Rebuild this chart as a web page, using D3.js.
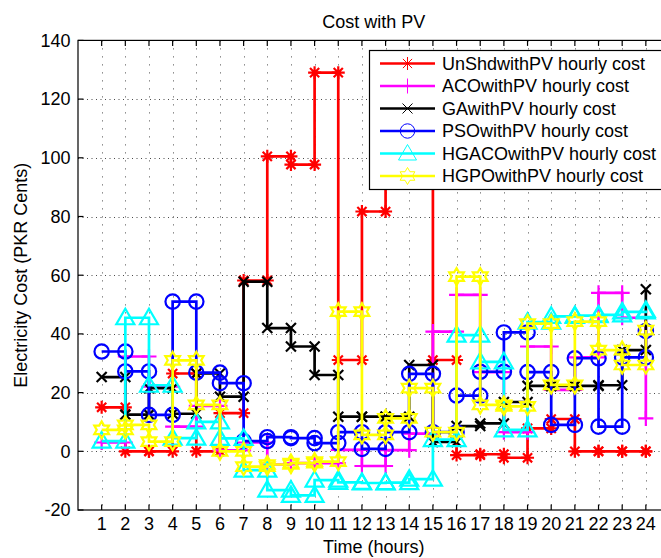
<!DOCTYPE html>
<html>
<head>
<meta charset="utf-8">
<script src="https://cdn.jsdelivr.net/npm/d3@7"></script>
<style>
  body { margin: 0; background: #fff; }
  svg { display: block; font-family: "Liberation Sans", Arial, Helvetica, sans-serif; }
</style>
</head>
<body>
<svg id="chart" width="661" height="558"></svg>
<script>
// Hourly electricity cost with PV, six scheduling schemes
const hours = [1, 2, 3, 4, 5, 6, 7, 8, 9, 10, 11, 12, 13, 14, 15, 16, 17, 18, 19, 20, 21, 22, 23, 24];
const yTicks = [-20, 0, 20, 40, 60, 80, 100, 120, 140];

const seriesNames = [
  "UnShdwithPV hourly cost",
  "ACOwithPV hourly cost",
  "GAwithPV hourly cost",
  "PSOwithPV hourly cost",
  "HGACOwithPV hourly cost",
  "HGPOwithPV hourly cost"
];
const seriesColors = ["#ff0000", "#ff00ff", "#000000", "#0000ff", "#00ffff", "#ffff00"];
const seriesMarkers = ["asterisk", "plus", "cross", "circle", "triangle", "hexagram"];

const unshdCost = [15, 0, 0, 26.5, 0, 13, 58.2, 100.5, 97.7, 129, 31.1, 81.7, 112, 106, 31.1, -1.3, -1.0, -2.2, 7.8, 11, 0, 0, 0, 0];
const acoCost   = [3, 32.3, 22, 8.4, 15.5, 0.3, 3.0, -4.5, -4, -4, 0.5, -5, 0.4, 6, 40.8, 53.3, 27, 6.5, 35.7, 20.9, 32, 54, 45.5, 11.2];
const gaCost    = [25.3, 12.5, 21.5, 12.8, 26.5, 18.6, 57.8, 42, 35.7, 26, 11.8, 11.8, 11.8, 29.4, 3.2, 8.6, 9.5, 16.8, 22.3, 22.3, 22.3, 22.5, 34.5, 55.2];
const psoCost   = [34, 27.2, 12.4, 51, 26.8, 23.2, 3.5, 4.8, 4.5, 2.8, 6.5, 0.8, 6.5, 26.4, 6.5, 19, 27.1, 40.5, 27, 9, 31.7, 8.4, 32, 41];
const hgacoCost = [3.5, 45.5, 22.5, 4.5, 10, 4.4, -6.4, -13.2, -15, -9.8, -10.6, -10.8, -10.7, -9.5, 4, 39.6, 30.5, 7.3, 44, 46, 46.2, 46.5, 47.5, 48];
const hgpoCost  = [7.3, 9, 3.3, 31, 15.8, 0, -5.2, -4.5, -4, -3.5, 47.6, 5.6, 11.2, 21.5, 6.5, 59.5, 15.8, 15.3, 43.5, 22.6, 44.2, 34.5, 29.4, 41.3];

const seriesValues = [unshdCost, acoCost, gaCost, psoCost, hgacoCost, hgpoCost];

(function draw() {
  const svg = d3.select("#chart");
  const pL = 78, pR = 669.5, pT = 40.4, pB = 510;
  const x = d3.scaleLinear().domain([0, 25]).range([pL, pR]);
  const y = d3.scaleLinear().domain([-20, 140]).range([pB, pT]);
  const fs = 18;

  svg.append("rect").attr("width", 661).attr("height", 558).attr("fill", "#fff");

  svg.append("defs").append("clipPath").attr("id", "plotClip")
    .append("rect").attr("x", pL).attr("y", pT)
    .attr("width", pR - pL).attr("height", pB - pT);

  // dotted grid
  const grid = svg.append("g").attr("stroke", "#000").attr("stroke-width", 1).attr("opacity", 0.7);
  grid.selectAll(".vg").data(hours).join("line")
    .attr("x1", d => Math.round(x(d)) + 0.5).attr("x2", d => Math.round(x(d)) + 0.5)
    .attr("y1", pT).attr("y2", pB)
    .attr("stroke-dasharray", "1,7");
  grid.selectAll(".hg").data(yTicks.slice(1, -1)).join("line")
    .attr("y1", d => Math.round(y(d)) + 0.5).attr("y2", d => Math.round(y(d)) + 0.5)
    .attr("x1", pL).attr("x2", pR)
    .attr("stroke-dasharray", "1,3.5");

  // axes box and inward ticks
  const axes = svg.append("g").attr("stroke", "#000").attr("stroke-width", 1.2);
  axes.append("rect").attr("x", pL).attr("y", pT)
    .attr("width", pR - pL).attr("height", pB - pT).attr("fill", "none");
  const tl = 5.5;
  axes.selectAll(".xtb").data(hours).join("line")
    .attr("x1", d => x(d)).attr("x2", d => x(d)).attr("y1", pB).attr("y2", pB - tl);
  axes.selectAll(".xtt").data(hours).join("line")
    .attr("x1", d => x(d)).attr("x2", d => x(d)).attr("y1", pT).attr("y2", pT + tl);
  axes.selectAll(".ytl").data(yTicks).join("line")
    .attr("y1", d => y(d)).attr("y2", d => y(d)).attr("x1", pL).attr("x2", pL + tl);

  // tick labels
  svg.append("g").selectAll("text").data(hours).join("text")
    .attr("x", d => x(d)).attr("y", 524).attr("dy", "0.35em")
    .attr("text-anchor", "middle").attr("font-size", fs).text(d => d);
  svg.append("g").selectAll("text").data(yTicks).join("text")
    .attr("x", 70.5).attr("y", d => y(d)).attr("dy", "0.35em")
    .attr("text-anchor", "end").attr("font-size", fs).text(d => d);

  const midX = (pL + pR) / 2, midY = (pT + pB) / 2;
  svg.append("text").attr("x", midX).attr("y", 22).attr("dy", "0.35em")
    .attr("text-anchor", "middle").attr("font-size", fs).text("Cost with PV");
  svg.append("text").attr("x", midX).attr("y", 547).attr("dy", "0.35em")
    .attr("text-anchor", "middle").attr("font-size", fs).text("Time (hours)");
  svg.append("text").attr("transform", `translate(21,${midY}) rotate(-90)`).attr("dy", "0.35em")
    .attr("text-anchor", "middle").attr("font-size", fs).text("Electricity Cost (PKR Cents)");

  // marker shapes centred on the origin
  function markerPath(type) {
    const p = d3.path();
    if (type === "asterisk") {
      const r = 6.5, q = r * 0.7071;
      p.moveTo(-r, 0); p.lineTo(r, 0); p.moveTo(0, -r); p.lineTo(0, r);
      p.moveTo(-q, -q); p.lineTo(q, q); p.moveTo(-q, q); p.lineTo(q, -q);
    } else if (type === "plus") {
      const r = 7.5;
      p.moveTo(-r, 0); p.lineTo(r, 0); p.moveTo(0, -r); p.lineTo(0, r);
    } else if (type === "cross") {
      const r = 5;
      p.moveTo(-r, -r); p.lineTo(r, r); p.moveTo(-r, r); p.lineTo(r, -r);
    } else if (type === "circle") {
      p.moveTo(7.2, 0); p.arc(0, 0, 7.2, 0, 2 * Math.PI);
    } else if (type === "triangle") {
      p.moveTo(0, -9); p.lineTo(9, 6.5); p.lineTo(-9, 6.5); p.closePath();
    } else if (type === "hexagram") {
      const R = 8.5, r = R / Math.sqrt(3);
      for (let k = 0; k < 12; k++) {
        const a = -Math.PI / 2 + k * Math.PI / 6;
        const rr = k % 2 === 0 ? R : r;
        const px = rr * Math.cos(a), py = rr * Math.sin(a);
        if (k === 0) p.moveTo(px, py); else p.lineTo(px, py);
      }
      p.closePath();
    }
    return p.toString();
  }

  const stairs = d3.line().curve(d3.curveStepAfter).x(d => x(d.h)).y(d => y(d.v));
  const plot = svg.append("g").attr("clip-path", "url(#plotClip)");

  seriesValues.forEach((vals, s) => {
    const pts = hours.map((h, i) => ({ h, v: vals[i] }));
    const g = plot.append("g");
    g.append("path").attr("d", stairs(pts))
      .attr("fill", "none").attr("stroke", seriesColors[s])
      .attr("stroke-width", 2.7).attr("stroke-linejoin", "miter");
    // markers at every corner of the staircase
    const verts = [];
    pts.forEach((d, i) => {
      verts.push({ h: d.h, v: d.v });
      if (i < pts.length - 1) verts.push({ h: pts[i + 1].h, v: d.v });
    });
    g.selectAll(".m").data(verts).join("path")
      .attr("d", markerPath(seriesMarkers[s]))
      .attr("transform", d => `translate(${x(d.h)},${y(d.v)})`)
      .attr("fill", "none").attr("stroke", seriesColors[s]).attr("stroke-width", 2.2);
  });

  // legend
  const lg = svg.append("g");
  lg.append("rect").attr("x", 369.5).attr("y", 50.5).attr("width", 310).attr("height", 139)
    .attr("fill", "#fff").attr("stroke", "#000").attr("stroke-width", 1.2);
  seriesNames.forEach((name, s) => {
    const ry = 63.5 + s * 22.5;
    lg.append("line").attr("x1", 380).attr("x2", 435).attr("y1", ry).attr("y2", ry)
      .attr("stroke", seriesColors[s]).attr("stroke-width", 2.7);
    lg.append("path").attr("d", markerPath(seriesMarkers[s]))
      .attr("transform", `translate(407.5,${ry})`)
      .attr("fill", "none").attr("stroke", seriesColors[s]).attr("stroke-width", 1);
    lg.append("text").attr("x", 442).attr("y", ry).attr("dy", "0.35em")
      .attr("font-size", fs).text(name);
  });
})();
</script>
</body>
</html>
